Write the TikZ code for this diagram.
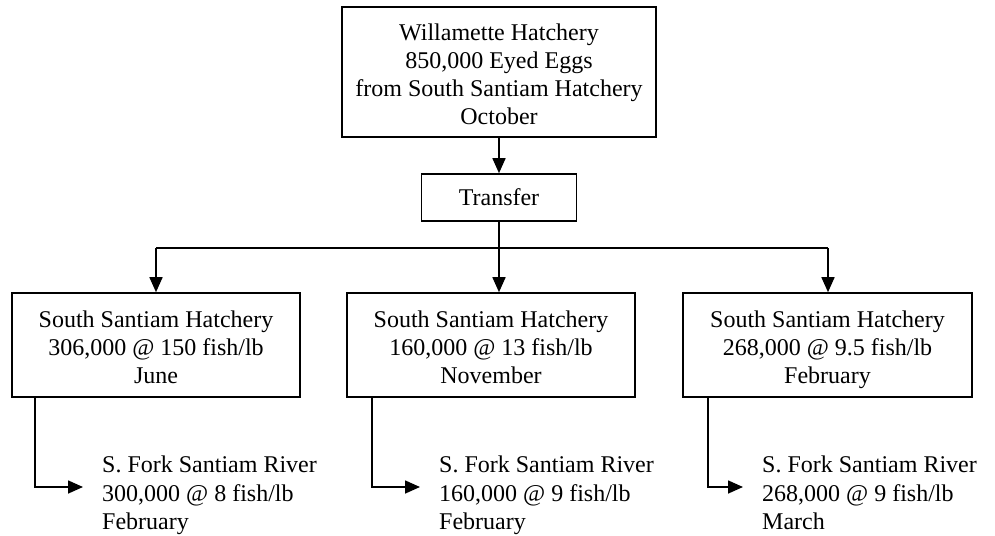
\documentclass[tikz,border=0pt]{standalone}
\usepackage{fontspec}
\setmainfont{Liberation Serif}
\usetikzlibrary{arrows.meta}
\newcommand\mytopst{\rule{0pt}{28pt}}
\newcommand\mybotst{\rule[-6.5pt]{0pt}{6.5pt}}
\begin{document}
\begin{tikzpicture}[x=1pt,y=-1pt,
  txt/.style={font={\fontsize{24}{28}\selectfont},align=center},
  boxnode/.style={txt,draw,line width=1.6pt,inner sep=0pt},
  dest/.style={font={\fontsize{24}{28.5}\selectfont},align=left,anchor=north west,inner xsep=19pt,inner ysep=0pt},
  conn/.style={line width=1.6pt},
  arr/.style={conn,-{Triangle[length=15pt,width=13pt]}}]
\useasboundingbox (0,0) rectangle (995,535);
\node[boxnode,minimum width=314pt,minimum height=130pt] (top) at (499,72)
  {\mytopst Willamette Hatchery\\850,000 Eyed Eggs\\from South Santiam Hatchery\\October\mybotst};
\node[boxnode,minimum width=155pt,minimum height=47pt] (tr) at (499,197.5) {\rule[-5pt]{0pt}{25pt}Transfer};
\node[boxnode,minimum width=288pt,minimum height=104pt] (b1) at (156,345)
  {\mytopst South Santiam Hatchery\\306,000 @ 150 fish/lb\\June\mybotst};
\node[boxnode,minimum width=288pt,minimum height=104pt] (b2) at (491,345)
  {\mytopst South Santiam Hatchery\\160,000 @ 13 fish/lb\\November\mybotst};
\node[boxnode,minimum width=289pt,minimum height=104pt] (b3) at (827.5,345)
  {\mytopst South Santiam Hatchery\\268,000 @ 9.5 fish/lb\\February\mybotst};
\node[dest] (r1) at (83,456) {S. Fork Santiam River\\300,000 @ 8 fish/lb\\February};
\node[dest] (r2) at (420,456) {S. Fork Santiam River\\160,000 @ 9 fish/lb\\February};
\node[dest] (r3) at (743,456) {S. Fork Santiam River\\268,000 @ 9 fish/lb\\March};
\coordinate (j) at (499,248);
\coordinate (jl) at (156,248);
\coordinate (jr) at (828,248);
\draw[arr] (top) -- (tr);
\draw[conn] (tr) -- (j);
\draw[conn] (jl) -- (jr);
\draw[arr] (jl) -- (b1);
\draw[arr] (j) -- (j |- b2.north);
\draw[arr] (jr) -- (jr |- b3.north);
\draw[arr] (b1.south -| 35,0) |- (r1.west |- 0,487);
\draw[arr] (b2.south -| 372,0) |- (r2.west |- 0,487);
\draw[arr] (b3.south -| 708,0) |- (r3.west |- 0,487);
\end{tikzpicture}
\end{document}
